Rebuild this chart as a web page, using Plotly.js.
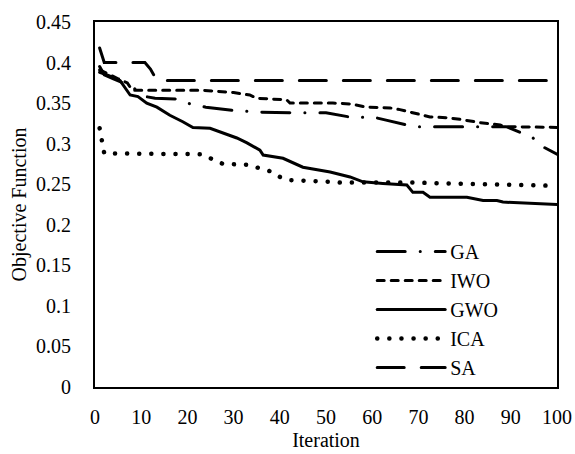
<!DOCTYPE html>
<html>
<head>
<meta charset="utf-8">
<script src="https://cdn.plot.ly/plotly-3.0.1.min.js"></script>
<style>html,body{margin:0;padding:0;background:#fff;}#chart{width:575px;height:454px;}</style>
</head>
<body>
<div id="chart"></div>
<script>
// GA (dash-dot)
const gaX = [1, 2, 4, 6, 8, 10, 11, 13, 18, 21, 24, 30, 35, 43, 50, 56, 60, 63, 69, 72, 89, 94.6, 97, 100];
const gaY = [0.395, 0.385, 0.38, 0.375, 0.37, 0.362, 0.358, 0.356, 0.355, 0.348, 0.345, 0.341, 0.339, 0.338, 0.338, 0.332, 0.333, 0.329, 0.321, 0.321, 0.321, 0.308, 0.296, 0.287];
// IWO (short dash)
const iwoX = [1, 3, 5, 7, 8, 23, 30, 33.5, 35, 41.5, 42.2, 51.5, 55.2, 58.9, 63.9, 66, 68.8, 72.5, 76.2, 79, 83.3, 87.7, 89, 100];
const iwoY = [0.391, 0.385, 0.38, 0.375, 0.366, 0.366, 0.363, 0.36, 0.356, 0.354, 0.35, 0.35, 0.349, 0.345, 0.344, 0.342, 0.338, 0.333, 0.332, 0.33, 0.326, 0.323, 0.321, 0.32];
// GWO (solid)
const gwoX = [1, 3, 5.4, 7.6, 9.3, 11.2, 13.4, 16.2, 19, 21.2, 24.9, 27.7, 30.7, 32.9, 35.7, 36.4, 40.7, 45, 50.9, 55.2, 58, 62.3, 67.5, 68.8, 71, 72.5, 80.5, 84, 87, 88.3, 100];
const gwoY = [0.388, 0.384, 0.378, 0.36, 0.358, 0.35, 0.345, 0.335, 0.327, 0.32, 0.319, 0.313, 0.307, 0.301, 0.292, 0.286, 0.282, 0.271, 0.265, 0.259, 0.253, 0.251, 0.249, 0.24, 0.24, 0.234, 0.234, 0.23, 0.23, 0.228, 0.225];
// ICA (dotted)
const icaX = [1, 1.5, 2, 23, 25.5, 27.7, 33, 35.7, 37.9, 40, 42, 50.4, 53, 68.8, 100];
const icaY = [0.319, 0.302, 0.288, 0.287, 0.281, 0.275, 0.274, 0.27, 0.266, 0.259, 0.255, 0.253, 0.252, 0.252, 0.248];
// SA (long dash)
const saX = [1, 2, 10.8, 12, 13.4, 100];
const saY = [0.418, 0.40, 0.40, 0.392, 0.378, 0.378];

const seriesNames = ['GA', 'IWO', 'GWO', 'ICA', 'SA'];
const xTicks = [0, 10, 20, 30, 40, 50, 60, 70, 80, 90, 100];
const yTicks = [0, 0.05, 0.1, 0.15, 0.2, 0.25, 0.3, 0.35, 0.4, 0.45];
const yTickText = ['0', '0.05', '0.1', '0.15', '0.2', '0.25', '0.3', '0.35', '0.4', '0.45'];

const FONT = 'Liberation Serif, Times New Roman, serif';
const W = 3;
function tr(x, y, name, dash, width) {
  return {x: x, y: y, name: name, type: 'scatter', mode: 'lines',
    line: {color: '#000', width: width || W, dash: dash}, hoverinfo: 'skip'};
}
const data = [
  tr(gaX, gaY, seriesNames[0], '28px,15px,0.1px,15px'),
  tr(iwoX, iwoY, seriesNames[1], '7px,7px'),
  tr(gwoX, gwoY, seriesNames[2], 'solid'),
  tr(icaX, icaY, seriesNames[3], '0.1px,12px', 4.5),
  tr(saX, saY, seriesNames[4], '27px,17px')
];
const layout = {
  width: 575, height: 454,
  margin: {l: 95, r: 18, t: 22, b: 67},
  paper_bgcolor: '#fff', plot_bgcolor: '#fff',
  font: {family: FONT, size: 20, color: '#000'},
  showlegend: true,
  legend: {x: 0.6, y: 0.425, xanchor: 'left', yanchor: 'top', bgcolor: 'rgba(0,0,0,0)',
    itemwidth: 68,
    font: {family: FONT, size: 20, color: '#000'}, tracegroupgap: 0, traceorder: 'normal'},
  xaxis: {range: [0, 100], tickvals: xTicks, ticktext: xTicks.map(String), showgrid: false, zeroline: false,
    showline: true, mirror: true, linecolor: '#000', linewidth: 2,
    ticks: 'outside', ticklen: 11, tickcolor: 'rgba(0,0,0,0)',
    title: {text: 'Iteration', font: {family: FONT, size: 20}, standoff: 6}},
  yaxis: {range: [0, 0.45], tickvals: yTicks, ticktext: yTickText, showgrid: false, zeroline: false,
    showline: true, mirror: true, linecolor: '#000', linewidth: 2,
    ticks: 'outside', ticklen: 18, tickcolor: 'rgba(0,0,0,0)',
    title: {text: 'Objective Function', font: {family: FONT, size: 20}, standoff: 4}}
};
Plotly.newPlot('chart', data, layout, {staticPlot: true}).then(function () {
  document.querySelectorAll('.scatterlayer .js-line, .legendlines path').forEach(function (p) {
    p.style.strokeLinecap = 'round';
  });
});
</script>
</body>
</html>
